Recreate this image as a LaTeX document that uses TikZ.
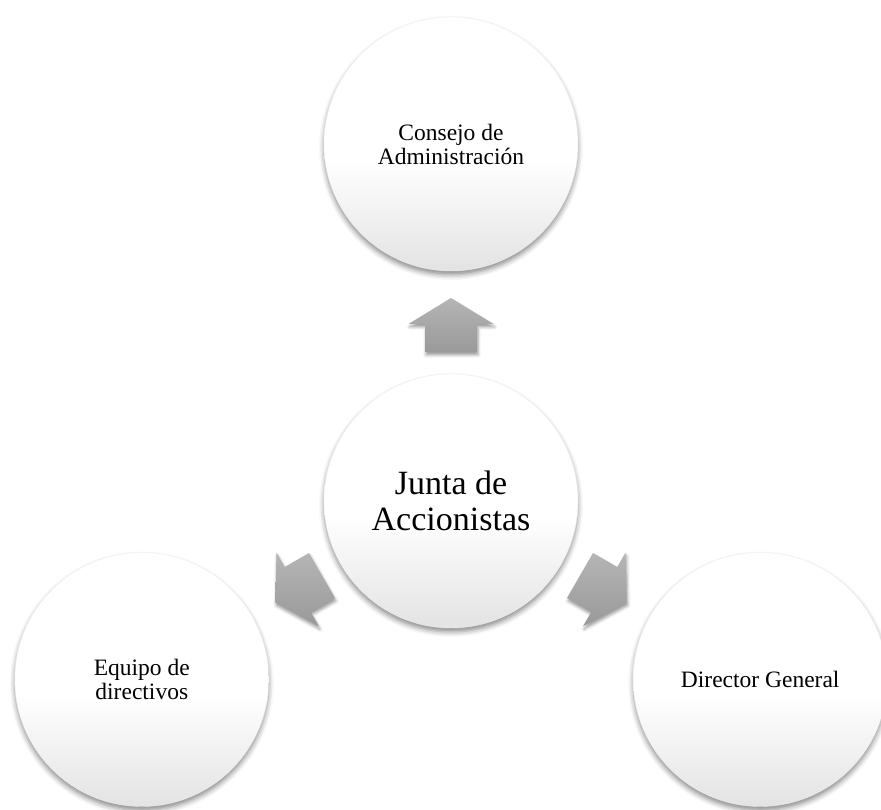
\documentclass[tikz,border=0pt]{standalone}
\usepackage{fontspec}
\setmainfont{Liberation Serif}
\usetikzlibrary{shadows.blur}
\pgfdeclareverticalshading{ballshade}{100bp}{color(0bp)=(black!11); color(25bp)=(black!11); color(47bp)=(white); color(100bp)=(white)}
\tikzset{
  ball/.style={circle, minimum size=254pt, inner sep=0pt, shading=ballshade,
    draw=black!7, line width=0.4pt, align=center,
    blur shadow={shadow xshift=0pt, shadow yshift=-4pt, shadow blur radius=5pt, shadow opacity=45}},
  smalltext/.style={font=\fontsize{23.5}{24}\selectfont},
  bigtext/.style={font=\fontsize{34}{36}\selectfont},
  arrowfill/.style={top color=black!29, bottom color=black!40, draw=none,
    blur shadow={shadow xshift=1pt, shadow yshift=-3pt, shadow blur radius=3pt, shadow opacity=40}},
  pics/flecha/.style={code={
    \path[arrowfill] (0,27) -- (42.5,1) -- (26,1) -- (26,-27) -- (-26,-27) -- (-26,1) -- (-42.5,1) -- cycle;}}
}
\begin{document}
\begin{tikzpicture}[x=1pt,y=1pt]
\useasboundingbox (0,0) rectangle (881,810);
\clip (0,0) rectangle (881,810);
% arrows
\pic (a1) at (451,485) {flecha};
\pic[rotate=120] (a2) at (298.6,221) {flecha};
\pic[rotate=-120] (a3) at (603.4,221) {flecha};
% circles
\node[ball, smalltext] (cons) at (451,666) {Consejo de\\Administración};
\node[ball, smalltext] (equi) at (141.8,130.5) {Equipo de\\directivos};
\node[ball, smalltext] (dire) at (760.2,130.5) {Director General};
\node[ball, bigtext] (junta) at (451,309) {Junta de\\Accionistas};
\end{tikzpicture}
\end{document}
